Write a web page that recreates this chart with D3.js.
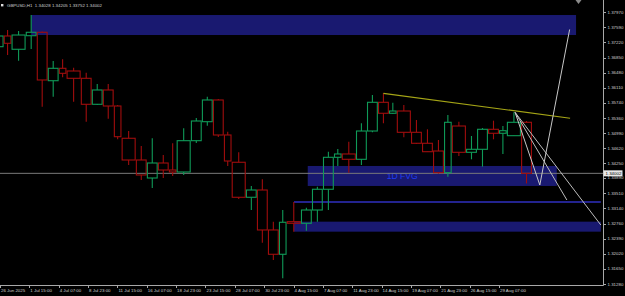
<!DOCTYPE html>
<html>
<head>
<meta charset="utf-8">
<script src="https://cdn.jsdelivr.net/npm/d3@7"></script>
<style>
  html, body { margin: 0; background: #000; }
  svg { display: block; }
</style>
</head>
<body>
<svg id="chart"></svg>
<script>
// ─── GBPUSD H1 with daily candle overlay ──────────────────────────────────────
const W = 625, H = 296;
const PLOT_R = 603, PLOT_B = 285;

// daily sessions (07:00 → 07:00 broker time)
const days = [
  '2025-06-26','2025-06-27','2025-06-30','2025-07-01','2025-07-02','2025-07-03','2025-07-04',
  '2025-07-07','2025-07-08','2025-07-09','2025-07-10','2025-07-11',
  '2025-07-14','2025-07-15','2025-07-16','2025-07-17','2025-07-18',
  '2025-07-21','2025-07-22','2025-07-23','2025-07-24','2025-07-25',
  '2025-07-28','2025-07-29','2025-07-30','2025-07-31','2025-08-01',
  '2025-08-04','2025-08-05','2025-08-06','2025-08-07','2025-08-08',
  '2025-08-11','2025-08-12','2025-08-13','2025-08-14','2025-08-15',
  '2025-08-18','2025-08-19','2025-08-20','2025-08-21','2025-08-22',
  '2025-08-25','2025-08-26','2025-08-27','2025-08-28','2025-08-29',
  '2025-09-01','2025-09-02'
];
const open  = [1.37117,1.37380,1.37053,1.37387,1.37471,1.36280,1.36585,
               1.36519,1.36339,1.35700,1.36052,1.35658,
               1.34864,1.34330,1.33887,1.34256,1.34084,
               1.34035,1.34805,1.35272,1.35806,1.34945,
               1.34274,1.33413,1.33592,1.32609,1.32011,
               1.32813,1.32773,1.33100,1.33610,1.34396,
               1.34478,1.34347,1.35043,1.35749,1.35479,
               1.35535,1.35011,1.34741,1.34551,1.34018,
               1.35166,1.34519,1.34593,1.35085,1.34987,
               1.34928,1.35257];
const high  = [1.37429,1.37527,1.37503,1.37896,1.37490,1.36765,1.36807,
               1.36600,1.36477,1.36199,1.36199,1.35683,
               1.35043,1.34674,1.34864,1.34453,1.34741,
               1.35110,1.35363,1.35887,1.35830,1.35026,
               1.34519,1.33691,1.33855,1.32813,1.33100,
               1.33297,1.33157,1.33673,1.34534,1.34601,
               1.34780,1.35233,1.35929,1.35970,1.35739,
               1.35683,1.35314,1.35085,1.34822,1.35437,
               1.35272,1.34920,1.35117,1.35297,1.35166,
               1.35503,1.35289];
const low   = [1.37085,1.36912,1.36772,1.37060,1.35641,1.35887,1.36364,
               1.35764,1.35272,1.35683,1.35346,1.34839,
               1.34207,1.33838,1.33641,1.33887,1.33936,
               1.33961,1.34748,1.35174,1.34896,1.34183,
               1.33371,1.33100,1.32296,1.31871,1.31421,
               1.32567,1.32591,1.32813,1.33100,1.34183,
               1.34018,1.34207,1.35011,1.35233,1.35461,
               1.34888,1.34724,1.34527,1.33998,1.33919,
               1.34428,1.34347,1.34165,1.34839,1.34478,
               1.34920,1.33752];
const close = [1.37380,1.37200,1.37404,1.37471,1.36298,1.36585,1.36462,
               1.36339,1.35700,1.36052,1.35658,1.34903,
               1.34330,1.33961,1.34256,1.34084,1.34035,
               1.34805,1.35289,1.35806,1.34945,1.34305,
               1.33413,1.33592,1.32609,1.32011,1.32798,
               1.32773,1.33100,1.33610,1.34396,1.34478,
               1.34347,1.35043,1.35749,1.35479,1.35535,
               1.35011,1.34741,1.34534,1.34018,1.35257,
               1.34519,1.34593,1.35085,1.34987,1.35051,
               1.35257,1.34002];

const priceTicks = ['1.37970','1.37590','1.37220','1.36850','1.36480','1.36110','1.35740',
                    '1.35360','1.34990','1.34620','1.34250','1.33890','1.33510','1.33140',
                    '1.32760','1.32390','1.32020','1.31650','1.31280'];
const timeTicks  = ['2025-06-26 23:00','2025-07-01 15:00','2025-07-04 07:00','2025-07-08 23:00',
                    '2025-07-11 15:00','2025-07-16 07:00','2025-07-18 23:00','2025-07-23 15:00',
                    '2025-07-28 07:00','2025-07-30 23:00','2025-08-04 15:00','2025-08-07 07:00',
                    '2025-08-11 23:00','2025-08-14 15:00','2025-08-19 07:00','2025-08-21 23:00',
                    '2025-08-26 15:00','2025-08-29 07:00'];
const timeLabels = ['26 Jun 2025','1 Jul 15:00','4 Jul 07:00','8 Jul 23:00','11 Jul 15:00',
                    '16 Jul 07:00','18 Jul 23:00','23 Jul 15:00','28 Jul 07:00','30 Jul 23:00',
                    '4 Aug 15:00','7 Aug 07:00','11 Aug 23:00','14 Aug 15:00','19 Aug 07:00',
                    '21 Aug 23:00','26 Aug 15:00','29 Aug 07:00'];

// drawn objects
const zoneTimes  = [['2025-07-01 19:00','2025-09-09 07:00'],
                    ['2025-08-05 22:00','2025-09-05 13:00'],
                    ['2025-08-04 16:00','2025-09-11 13:00']];
const zonePrices = [[1.37896,1.37404],[1.34183,1.33691],[1.32813,1.32567]];
const zoneLabel  = { text: '1D FVG', time: '2025-08-15 02:00', price: 1.33937 };
const levelTimes = ['2025-08-04 16:00','2025-09-11 13:00'];
const levelPrice = 1.33297;
const trendTimes  = ['2025-08-14 19:00','2025-09-08 18:00'];
const trendPrices = [1.35970, 1.35356];
const fanStart    = { time: '2025-09-01 18:00', price: 1.35503 };
const fanEnds     = [{ time: '2025-09-08 11:00', price: 1.33346 },
                     { time: '2025-09-11 13:00', price: 1.32731 }];
const pathTimes   = ['2025-09-01 18:00','2025-09-04 00:00','2025-09-08 17:00'];
const pathPrices  = [1.35503, 1.33715, 1.37540];
const bid = 1.34002;
const title = 'GBPUSD,H1  1.34028 1.34205 1.33752 1.34002';

// ── time helpers: trading hours (weekdays only) since first bar ─────────────
const BASE = Date.UTC(2025, 5, 26, 23);
function toMs(s) { return Date.parse(s.replace(' ', 'T') + ':00Z'); }
function hrs(s) {
  let a = BASE, b = toMs(s), sign = 1;
  if (b < a) { sign = -1; [a, b] = [b, a]; }
  let n = 0;
  for (let t = a; t < b; t += 3600e3) {
    const d = new Date(t).getUTCDay();
    if (d !== 0 && d !== 6) n++;
  }
  return sign * n;
}
function dow(day) { return new Date(toMs(day + ' 00:00')).getUTCDay(); }
function nextDay(day) {
  return new Date(toMs(day + ' 00:00') + 864e5).toISOString().slice(0, 10);
}
function sessStart(day) { return day + (dow(day) === 1 ? ' 00:00' : ' 07:00'); }
function sessEnd(day)   { return nextDay(day) + (dow(day) === 5 ? ' 00:00' : ' 07:00'); }

const x = d3.scaleLinear()
  .domain([hrs('2025-06-26 23:00'), hrs('2025-08-29 07:00')])
  .range([0, 499]);
const y = d3.scaleLinear().domain([1.31280, 1.37970]).range([284, 12]);

const candles = days.map((d, i) => ({
  day: d, o: open[i], h: high[i], l: low[i], c: close[i],
  x0: x(hrs(sessStart(d))), x1: x(hrs(sessEnd(d)))
}));

const svg = d3.select('#chart').attr('width', W).attr('height', H)
  .style('background', '#000');

svg.append('defs').append('clipPath').attr('id', 'plot')
  .append('rect').attr('x', 0).attr('y', 0).attr('width', PLOT_R).attr('height', PLOT_B);

const g = svg.append('g').attr('clip-path', 'url(#plot)');

// ── Zones ───────────────────────────────────────────────────────────────────
g.selectAll('.zone').data(zoneTimes).join('rect').attr('class', 'zone')
  .attr('x', d => x(hrs(d[0])))
  .attr('width', d => x(hrs(d[1])) - x(hrs(d[0])))
  .attr('y', (d, i) => y(zonePrices[i][0]))
  .attr('height', (d, i) => y(zonePrices[i][1]) - y(zonePrices[i][0]))
  .attr('fill', '#191970');

g.append('line')
  .attr('x1', x(hrs(levelTimes[0]))).attr('x2', x(hrs(levelTimes[1])))
  .attr('y1', y(levelPrice)).attr('y2', y(levelPrice))
  .attr('stroke', '#23238f').attr('stroke-width', 2);

g.append('text')
  .attr('x', x(hrs(zoneLabel.time))).attr('y', y(zoneLabel.price))
  .attr('dy', '0.35em')
  .attr('font-family', 'Liberation Sans, Arial, sans-serif').attr('font-size', 8.6)
  .attr('fill', '#1f3cf0').text(zoneLabel.text);

// ── Bid line ────────────────────────────────────────────────────────────────
g.append('line').attr('x1', 0).attr('x2', PLOT_R)
  .attr('y1', y(bid)).attr('y2', y(bid))
  .attr('stroke', '#7a7a7a').attr('stroke-width', 1);

// ── Candles ─────────────────────────────────────────────────────────────────
const GREEN = '#0f9a58', RED = '#a00d0d';
const cg = g.selectAll('.candle').data(candles).join('g').attr('class', 'candle')
  .attr('stroke', d => d.c >= d.o ? GREEN : RED)
  .attr('stroke-width', 1.1).attr('fill', 'none');

cg.append('line')
  .attr('x1', d => (d.x0 + d.x1) / 2).attr('x2', d => (d.x0 + d.x1) / 2)
  .attr('y1', d => y(d.h)).attr('y2', d => y(Math.max(d.o, d.c)));
cg.append('line')
  .attr('x1', d => (d.x0 + d.x1) / 2).attr('x2', d => (d.x0 + d.x1) / 2)
  .attr('y1', d => y(Math.min(d.o, d.c))).attr('y2', d => y(d.l));
cg.append('rect')
  .attr('x', d => d.x0 + 0.6).attr('width', d => d.x1 - d.x0 - 1.2)
  .attr('y', d => y(Math.max(d.o, d.c)))
  .attr('height', d => Math.max(1, y(Math.min(d.o, d.c)) - y(Math.max(d.o, d.c))));

// ── Trend line + projections ────────────────────────────────────────────────
g.append('line')
  .attr('x1', x(hrs(trendTimes[0]))).attr('y1', y(trendPrices[0]))
  .attr('x2', x(hrs(trendTimes[1]))).attr('y2', y(trendPrices[1]))
  .attr('stroke', '#a5a516').attr('stroke-width', 1.2);

g.selectAll('.fan').data(fanEnds).join('line').attr('class', 'fan')
  .attr('x1', x(hrs(fanStart.time))).attr('y1', y(fanStart.price))
  .attr('x2', d => x(hrs(d.time))).attr('y2', d => y(d.price))
  .attr('stroke', '#bdbdbd').attr('stroke-width', 1);

g.append('path')
  .attr('d', d3.line()(pathTimes.map((t, i) => [x(hrs(t)), y(pathPrices[i])])))
  .attr('fill', 'none').attr('stroke', '#c8c8c8').attr('stroke-width', 1);

// ── Axes ────────────────────────────────────────────────────────────────────
const AX = '#a8a8a8', TXT = '#cfcfcf';
const FONT = 'Liberation Sans, Arial, sans-serif';
svg.append('path')
  .attr('d', `M0,${PLOT_B + 0.5}H${PLOT_R + 0.5}V0`)
  .attr('fill', 'none').attr('stroke', AX).attr('stroke-width', 1);

const py = svg.append('g');
py.selectAll('line').data(priceTicks).join('line')
  .attr('x1', PLOT_R).attr('x2', PLOT_R + 3)
  .attr('y1', d => Math.round(y(+d)) + 0.5).attr('y2', d => Math.round(y(+d)) + 0.5)
  .attr('stroke', AX);
py.selectAll('text').data(priceTicks).join('text')
  .attr('x', PLOT_R + 4.5).attr('y', d => y(+d)).attr('dy', '0.35em')
  .attr('font-family', FONT).attr('font-size', 4.4).attr('fill', TXT)
  .text(d => d);

// bid price tag
svg.append('rect').attr('x', PLOT_R + 0.5).attr('y', y(bid) - 3)
  .attr('width', 19).attr('height', 6).attr('fill', '#e8e8e8');
svg.append('text').attr('x', PLOT_R + 2.5).attr('y', y(bid)).attr('dy', '0.35em')
  .attr('font-family', FONT).attr('font-size', 4.4).attr('fill', '#000').text(bid.toFixed(5));

const px = svg.append('g');
px.selectAll('line').data(timeTicks).join('line')
  .attr('x1', d => Math.round(x(hrs(d))) + 0.5).attr('x2', d => Math.round(x(hrs(d))) + 0.5)
  .attr('y1', PLOT_B).attr('y2', PLOT_B + 3)
  .attr('stroke', AX);
px.selectAll('text').data(timeTicks).join('text')
  .attr('x', d => x(hrs(d)) + 1).attr('y', PLOT_B + 6.8)
  .attr('font-family', FONT).attr('font-size', 4.4).attr('fill', TXT)
  .text((d, i) => timeLabels[i]);

// ── Header ──────────────────────────────────────────────────────────────────
svg.append('rect').attr('x', 1).attr('y', 4).attr('width', 2.4).attr('height', 2.4).attr('fill', '#ddd');
svg.append('text').attr('x', 7).attr('y', 7)
  .attr('font-family', FONT).attr('font-size', 4.4).attr('fill', TXT)
  .attr('xml:space', 'preserve').style('white-space', 'pre')
  .text(title);

// chart shift marker
svg.append('path').attr('d', 'M575.5,0L581.5,0L578.5,4Z').attr('fill', '#8a8a8a');
</script>
</body>
</html>
